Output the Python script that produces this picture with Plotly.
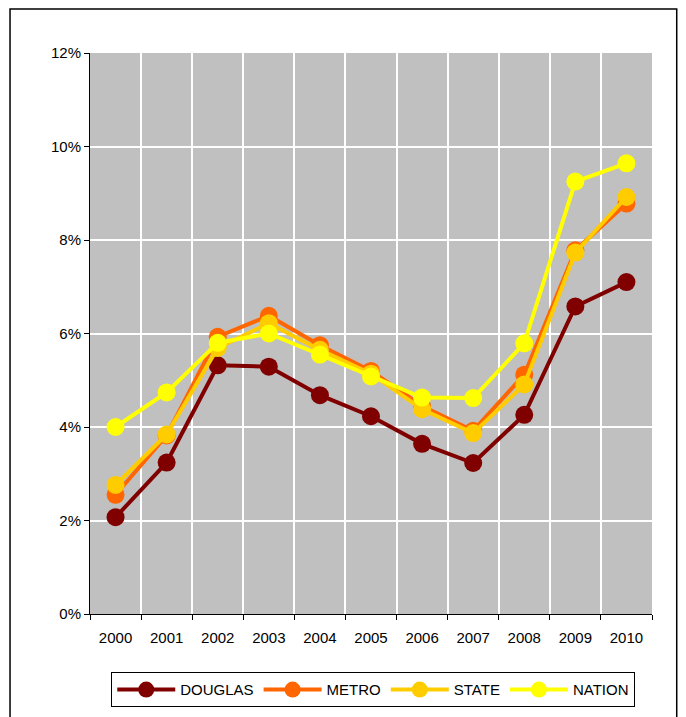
import plotly.graph_objects as go

years = ["2000", "2001", "2002", "2003", "2004", "2005", "2006", "2007", "2008", "2009", "2010"]
douglas = [2.07, 3.24, 5.32, 5.29, 4.68, 4.23, 3.64, 3.23, 4.26, 6.58, 7.10]
metro = [2.55, 3.82, 5.93, 6.38, 5.75, 5.20, 4.45, 3.92, 5.12, 7.78, 8.78]
state = [2.76, 3.84, 5.69, 6.22, 5.65, 5.14, 4.38, 3.87, 4.91, 7.73, 8.92]
nation = [4.00, 4.74, 5.80, 6.00, 5.55, 5.08, 4.63, 4.62, 5.79, 9.25, 9.64]
y_ticks = [0, 2, 4, 6, 8, 10, 12]
y_tick_text = ["0%", "2%", "4%", "6%", "8%", "10%", "12%"]

series = [
    ("DOUGLAS", douglas, "#800000"),
    ("METRO", metro, "#FF6600"),
    ("STATE", state, "#FFCC00"),
    ("NATION", nation, "#FFFF00"),
]

fig = go.Figure()
for name, vals, color in series:
    fig.add_trace(go.Scatter(
        x=years, y=vals, name=name, mode="lines+markers",
        line=dict(color=color, width=4),
        marker=dict(color=color, size=18),
    ))

font = dict(family="Liberation Sans, Arial, sans-serif", size=15, color="black")

fig.update_layout(
    width=686, height=717,
    margin=dict(l=82, r=42, t=45, b=111),
    paper_bgcolor="white",
    plot_bgcolor="#C0C0C0",
    font=font,
    showlegend=True,
    legend=dict(
        orientation="h", x=0.504, xanchor="center", y=-0.104, yanchor="top",
        bordercolor="black", borderwidth=1, bgcolor="white",
        font=font,
        itemwidth=58, tracegroupgap=0,
    ),
    xaxis=dict(
        type="category", tickson="boundaries", ticks="outside", ticklen=5,
        tickcolor="black", showline=True, linecolor="black", linewidth=1,
        showgrid=True, gridcolor="white", gridwidth=2,
        tickfont=font, range=[-0.5, 10.5], ticklabelstandoff=10,
    ),
    yaxis=dict(
        range=[0, 12], tickvals=y_ticks, ticktext=y_tick_text,
        ticks="outside", ticklen=5, tickcolor="black",
        showline=True, linecolor="black", linewidth=1,
        showgrid=True, gridcolor="white", gridwidth=2,
        zeroline=False, tickfont=font,
    ),
    shapes=[dict(
        type="rect", xref="paper", yref="paper",
        x0=-0.1423, x1=1.044, y0=-0.19, y1=1.0784,
        line=dict(color="black", width=1.5), fillcolor="rgba(0,0,0,0)",
        layer="below",
    )],
)

fig.write_html("out.html")
